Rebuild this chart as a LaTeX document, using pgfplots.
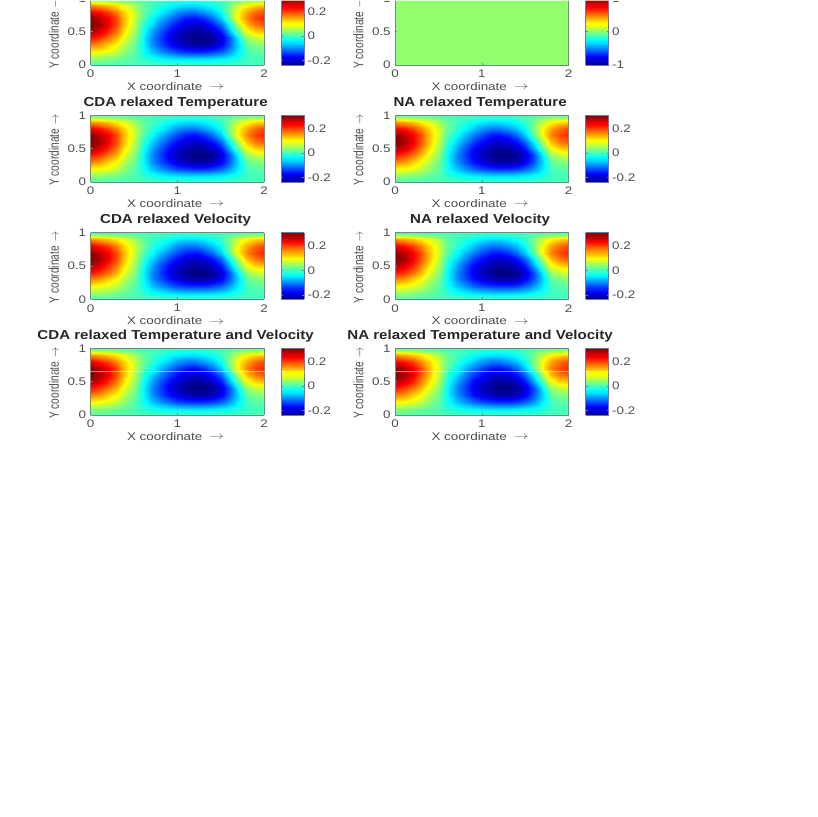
\documentclass[border=0pt]{standalone}
\usepackage{pgfplots}
\usepackage{pgfplotstable}
\usepackage{fontspec}
\pgfplotsset{compat=1.18}
\setmainfont{Liberation Sans}
\newfontfamily\tk[FakeStretch=1.22]{Liberation Sans}
\newfontfamily\ttl[FakeStretch=1.16]{Liberation Sans}
\newcommand\tkf{\tk\fontsize{11}{12}\selectfont}
\newcommand\lblf{\tk\fontsize{11}{12}\selectfont}
\newcommand\ttlf{\ttl\bfseries\fontsize{13}{15}\selectfont}
\definecolor{txt}{gray}{0.3}
\definecolor{bord}{rgb}{0.42,0.55,0.52}
\definecolor{cbord}{rgb}{0.45,0.45,0.65}

\pgfplotstableread[row sep=\\]{
x y z\\
0 0 .008\\ 0.1 0 .008\\ 0.2 0 .008\\ 0.3 0 .008\\ 0.4 0 .008\\ 0.5 0 .008\\ 0.6 0 .008\\ 0.7 0 .008\\ 0.8 0 .008\\ 0.9 0 .008\\ 1 0 .008\\ 1.1 0 .008\\ 1.2 0 .008\\ 1.3 0 .008\\ 1.4 0 .008\\ 1.5 0 .008\\ 1.6 0 .008\\ 1.7 0 .008\\ 1.8 0 .008\\ 1.9 0 .008\\ 2 0 .008\\
0 0.1 .05\\ 0.1 0.1 .05\\ 0.2 0.1 .04\\ 0.3 0.1 .03\\ 0.4 0.1 .02\\ 0.5 0.1 .008\\ 0.6 0.1 -.01\\ 0.7 0.1 -.025\\ 0.8 0.1 -.038\\ 0.9 0.1 -.046\\ 1 0.1 -.053\\ 1.1 0.1 -.057\\ 1.2 0.1 -.058\\ 1.3 0.1 -.057\\ 1.4 0.1 -.053\\ 1.5 0.1 -.045\\ 1.6 0.1 -.033\\ 1.7 0.1 -.015\\ 1.8 0.1 0\\ 1.9 0.1 .005\\ 2 0.1 .006\\
0 0.2 .11\\ 0.1 0.2 .10\\ 0.2 0.2 .09\\ 0.3 0.2 .07\\ 0.4 0.2 .04\\ 0.5 0.2 .015\\ 0.6 0.2 -.025\\ 0.7 0.2 -.06\\ 0.8 0.2 -.088\\ 0.9 0.2 -.112\\ 1 0.2 -.13\\ 1.1 0.2 -.14\\ 1.2 0.2 -.145\\ 1.3 0.2 -.145\\ 1.4 0.2 -.135\\ 1.5 0.2 -.115\\ 1.6 0.2 -.083\\ 1.7 0.2 -.037\\ 1.8 0.2 .005\\ 1.9 0.2 .015\\ 2 0.2 .02\\
0 0.3 .17\\ 0.1 0.3 .16\\ 0.2 0.3 .13\\ 0.3 0.3 .10\\ 0.4 0.3 .06\\ 0.5 0.3 .025\\ 0.6 0.3 -.03\\ 0.7 0.3 -.085\\ 0.8 0.3 -.125\\ 0.9 0.3 -.16\\ 1 0.3 -.185\\ 1.1 0.3 -.205\\ 1.2 0.3 -.215\\ 1.3 0.3 -.215\\ 1.4 0.3 -.205\\ 1.5 0.3 -.175\\ 1.6 0.3 -.12\\ 1.7 0.3 -.05\\ 1.8 0.3 .02\\ 1.9 0.3 .035\\ 2 0.3 .04\\
0 0.4 .23\\ 0.1 0.4 .21\\ 0.2 0.4 .18\\ 0.3 0.4 .14\\ 0.4 0.4 .085\\ 0.5 0.4 .04\\ 0.6 0.4 -.03\\ 0.7 0.4 -.09\\ 0.8 0.4 -.135\\ 0.9 0.4 -.175\\ 1 0.4 -.205\\ 1.1 0.4 -.225\\ 1.2 0.4 -.237\\ 1.3 0.4 -.237\\ 1.4 0.4 -.225\\ 1.5 0.4 -.19\\ 1.6 0.4 -.125\\ 1.7 0.4 -.035\\ 1.8 0.4 .05\\ 1.9 0.4 .07\\ 2 0.4 .08\\
0 0.5 .28\\ 0.1 0.5 .26\\ 0.2 0.5 .22\\ 0.3 0.5 .17\\ 0.4 0.5 .11\\ 0.5 0.5 .055\\ 0.6 0.5 -.02\\ 0.7 0.5 -.075\\ 0.8 0.5 -.125\\ 0.9 0.5 -.165\\ 1 0.5 -.195\\ 1.1 0.5 -.215\\ 1.2 0.5 -.225\\ 1.3 0.5 -.22\\ 1.4 0.5 -.20\\ 1.5 0.5 -.16\\ 1.6 0.5 -.08\\ 1.7 0.5 .015\\ 1.8 0.5 .095\\ 1.9 0.5 .125\\ 2 0.5 .135\\
0 0.6 .31\\ 0.1 0.6 .29\\ 0.2 0.6 .25\\ 0.3 0.6 .195\\ 0.4 0.6 .13\\ 0.5 0.6 .07\\ 0.6 0.6 -.005\\ 0.7 0.6 -.05\\ 0.8 0.6 -.095\\ 0.9 0.6 -.135\\ 1 0.6 -.165\\ 1.1 0.6 -.19\\ 1.2 0.6 -.20\\ 1.3 0.6 -.19\\ 1.4 0.6 -.16\\ 1.5 0.6 -.115\\ 1.6 0.6 -.035\\ 1.7 0.6 .06\\ 1.8 0.6 .14\\ 1.9 0.6 .175\\ 2 0.6 .195\\
0 0.7 .30\\ 0.1 0.7 .28\\ 0.2 0.7 .245\\ 0.3 0.7 .20\\ 0.4 0.7 .135\\ 0.5 0.7 .08\\ 0.6 0.7 .015\\ 0.7 0.7 -.025\\ 0.8 0.7 -.065\\ 0.9 0.7 -.10\\ 1 0.7 -.13\\ 1.1 0.7 -.155\\ 1.2 0.7 -.16\\ 1.3 0.7 -.145\\ 1.4 0.7 -.11\\ 1.5 0.7 -.06\\ 1.6 0.7 .02\\ 1.7 0.7 .11\\ 1.8 0.7 .17\\ 1.9 0.7 .205\\ 2 0.7 .225\\
0 0.8 .25\\ 0.1 0.8 .235\\ 0.2 0.8 .21\\ 0.3 0.8 .17\\ 0.4 0.8 .125\\ 0.5 0.8 .08\\ 0.6 0.8 .025\\ 0.7 0.8 -.005\\ 0.8 0.8 -.035\\ 0.9 0.8 -.06\\ 1 0.8 -.09\\ 1.1 0.8 -.105\\ 1.2 0.8 -.105\\ 1.3 0.8 -.09\\ 1.4 0.8 -.065\\ 1.5 0.8 -.03\\ 1.6 0.8 .035\\ 1.7 0.8 .105\\ 1.8 0.8 .155\\ 1.9 0.8 .185\\ 2 0.8 .205\\
0 0.9 .16\\ 0.1 0.9 .15\\ 0.2 0.9 .135\\ 0.3 0.9 .115\\ 0.4 0.9 .09\\ 0.5 0.9 .06\\ 0.6 0.9 .025\\ 0.7 0.9 .005\\ 0.8 0.9 -.01\\ 0.9 0.9 -.025\\ 1 0.9 -.04\\ 1.1 0.9 -.048\\ 1.2 0.9 -.048\\ 1.3 0.9 -.04\\ 1.4 0.9 -.025\\ 1.5 0.9 -.005\\ 1.6 0.9 .03\\ 1.7 0.9 .075\\ 1.8 0.9 .105\\ 1.9 0.9 .125\\ 2 0.9 .13\\
0 1 .01\\ 0.1 1 .01\\ 0.2 1 .01\\ 0.3 1 .01\\ 0.4 1 .01\\ 0.5 1 .01\\ 0.6 1 .008\\ 0.7 1 .008\\ 0.8 1 .006\\ 0.9 1 .006\\ 1 1 .004\\ 1.1 1 .004\\ 1.2 1 .004\\ 1.3 1 .004\\ 1.4 1 .006\\ 1.5 1 .006\\ 1.6 1 .008\\ 1.7 1 .01\\ 1.8 1 .01\\ 1.9 1 .01\\ 2 1 .01\\
}\fieldtbl

\pgfplotstableread[row sep=\\]{
x y z\\
0 0 .035\\ 2 0 .035\\
0 1 .035\\ 2 1 .035\\
}\flattbl

\pgfplotsset{
  panel/.style={
    scale only axis, width=173.3pt, height=66.7pt,
    anchor=south west, view={0}{90},
    xmin=0, xmax=2, ymin=0, ymax=1,
    xtick={0,1,2}, ytick={0,0.5,1},
    tick pos=left, tick align=inside, major tick length=2pt,
    axis line style={bord,line width=0.6pt},
    tick style={bord,line width=0.5pt},
    axis on top,
    colormap/jet,
    /pgf/number format/assume math mode=true,
    tick label style={font=\tkf,text=txt},
    xticklabel style={yshift=-1.5pt},
    yticklabel style={xshift=-1pt},
    xlabel={X coordinate\hspace{7pt}\raisebox{0.5pt}{\scalebox{1.35}[1]{$\rightarrow$}}},
    ylabel={\scalebox{0.92}[1.25]{Y coordinate\hspace{5pt}$\rightarrow$}},
    xlabel style={at={(0.49,-0.32)},anchor=center,font=\lblf,text=txt},
    ylabel style={at={(-0.212,0.48)},anchor=center,rotate=0,font=\fontsize{11}{12}\selectfont,text=txt},
    title style={at={(0.49,1.09)},anchor=center,font=\ttlf,text=black!85},
    colorbar sampled,
    colorbar style={
      samples=64,
      at={(1.0985,0)}, anchor=south west,
      width=23pt, height=66.7pt, scale only axis,
      axis line style={cbord,line width=0.6pt},
      tick style={cbord,line width=0.4pt},
      major tick length=2pt,
      tick align=inside,
      /pgf/number format/assume math mode=true,
      yticklabel style={font=\tkf,text=txt,xshift=0pt},
      xticklabel style={font=\tkf,text=txt},
    },
  },
  field/.style={point meta min=-0.237, point meta max=0.31,
    colorbar style={ytick={-0.2,0,0.2}}},
  flatfield/.style={point meta min=-1, point meta max=1,
    colorbar style={ytick={-1,0,1}}},
}

\newcommand\panel[6]{%
  \begin{axis}[panel,#4,at={(#1pt,#2pt)},title={#3}]
    \addplot3[surf,shader=interp,mesh/cols=#5] table[x=x,y=y,z=z] {#6};
  \end{axis}}

\begin{document}
\begin{tikzpicture}
\clip (0,0) rectangle (817pt,817pt);
% left column
\panel{90.7}{752}{}{field}{21}{\fieldtbl}
\panel{90.7}{635}{CDA relaxed Temperature}{field}{21}{\fieldtbl}
\panel{90.7}{517.7}{CDA relaxed Velocity}{field}{21}{\fieldtbl}
\panel{90.7}{402}{CDA relaxed Temperature and Velocity}{field}{21}{\fieldtbl}
% right column
\panel{395.2}{752}{}{flatfield}{2}{\flattbl}
\panel{395.2}{635}{NA relaxed Temperature}{field}{21}{\fieldtbl}
\panel{395.2}{517.7}{NA relaxed Velocity}{field}{21}{\fieldtbl}
\panel{395.2}{402}{NA relaxed Temperature and Velocity}{field}{21}{\fieldtbl}
% pale scan lines that cross the picture
\fill[white,opacity=0.7] (0,815.5pt) rectangle (817pt,817pt);
\fill[white,opacity=0.5] (0,444.6pt) rectangle (817pt,445.8pt);
\end{tikzpicture}
\end{document}
